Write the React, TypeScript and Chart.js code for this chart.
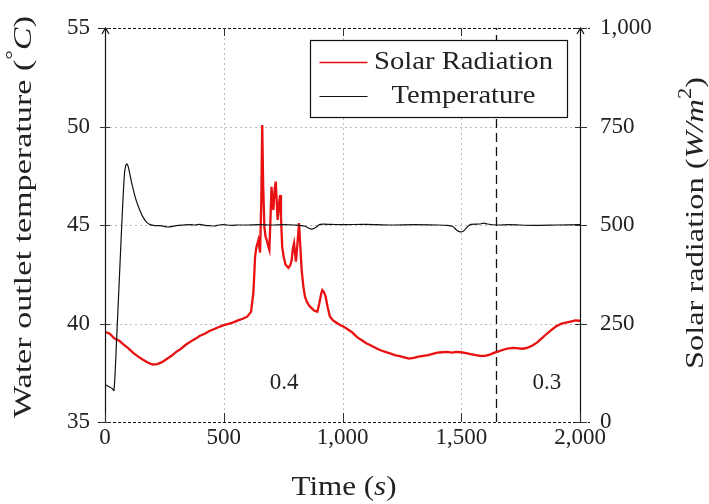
import React, { useEffect, useRef } from "react";
import { Chart, registerables } from "chart.js";

Chart.register(...registerables);

// ---------- data ----------
const tempTime = [0, 15, 30, 38, 50, 62, 74, 82, 87, 92, 98, 106, 115, 130, 145, 160, 175, 190, 210, 240, 260, 280, 300, 330, 360, 380, 400, 420, 440, 460, 480, 500, 530, 560, 600, 650, 700, 750, 800, 840, 860, 875, 890, 905, 950, 1000, 1100, 1200, 1300, 1400, 1440, 1465, 1480, 1495, 1510, 1525, 1540, 1580, 1595, 1610, 1650, 1700, 1800, 1900, 2000];
const tempValue = [36.9, 36.8, 36.7, 36.6, 39.5, 42.7, 45.9, 47.6, 48.0, 48.1, 47.95, 47.5, 47.0, 46.3, 45.8, 45.4, 45.15, 45.02, 44.97, 44.96, 44.9, 44.92, 44.97, 45.0, 45.02, 45.0, 45.03, 44.98, 44.97, 44.95, 45.0, 45.02, 44.98, 45.0, 45.0, 45.02, 45.0, 45.02, 45.0, 44.95, 44.82, 44.8, 44.9, 45.03, 45.03, 45.02, 45.03, 45.0, 45.02, 45.0, 44.98, 44.92, 44.75, 44.65, 44.7, 44.9, 45.03, 45.05, 45.1, 45.05, 45.0, 45.02, 44.98, 45.0, 45.02];

const radTime = [0, 20, 40, 60, 80, 100, 120, 140, 160, 180, 200, 220, 240, 260, 280, 300, 320, 340, 360, 380, 400, 420, 440, 460, 480, 500, 520, 540, 560, 580, 600, 615, 625, 632, 638, 646, 653, 658, 662, 666, 671, 676, 681, 688, 692, 697, 701, 705, 709, 714, 719, 723, 727, 732, 737, 741, 746, 752, 760, 772, 780, 786, 791, 796, 800, 804, 810, 817, 822, 828, 835, 842, 850, 860, 870, 880, 894, 902, 910, 915, 922, 929, 938, 947, 960, 975, 990, 1005, 1020, 1040, 1060, 1080, 1100, 1120, 1140, 1160, 1180, 1200, 1220, 1240, 1260, 1280, 1300, 1320, 1340, 1360, 1380, 1400, 1420, 1440, 1460, 1480, 1500, 1520, 1540, 1560, 1580, 1600, 1620, 1640, 1660, 1680, 1700, 1720, 1740, 1760, 1780, 1800, 1820, 1840, 1860, 1880, 1900, 1920, 1940, 1960, 1980, 2000];
const radValue = [229, 224, 212, 206, 196, 186, 175, 166, 158, 151, 146, 147, 152, 160, 168, 178, 186, 196, 204, 211, 219, 224, 231, 236, 241, 246, 249, 253, 258, 262, 268, 280, 330, 420, 445, 462, 430, 560, 754, 600, 495, 470, 462, 445, 437, 520, 597, 560, 538, 590, 610, 560, 513, 550, 576, 520, 445, 420, 400, 391, 398, 411, 440, 454, 430, 407, 450, 505, 450, 386, 345, 318, 305, 295, 289, 283, 280, 300, 325, 335, 330, 318, 290, 268, 258, 252, 246, 242, 236, 228, 216, 208, 200, 194, 188, 182, 178, 174, 170, 167, 164, 161, 163, 166, 168, 170, 173, 176, 177, 178, 176, 178, 177, 175, 172, 170, 168, 168, 171, 176, 180, 184, 187, 188, 187, 186, 189, 194, 202, 213, 224, 234, 243, 249, 252, 255, 258, 257];

const xTicks = [0, 500, 1000, 1500, 2000];
const tempTicks = [35, 40, 45, 50, 55];
const radTicks = [0, 250, 500, 750, 1000];
const splitTime = 1645;
const regionLabels = ["0.4", "0.3"];
const regionLabelTimes = [754, 1861];
const regionLabelTemp = 37;
const seriesNames = ["Solar Radiation", "Temperature"];

const FONT = "'Liberation Serif', 'Times New Roman', serif";
const TEXT = "#222";

type Part = { t: string; it?: boolean; sup?: boolean };

function richWidth(ctx: CanvasRenderingContext2D, parts: Part[], size: number) {
  let w = 0;
  for (const p of parts) {
    const s = p.sup ? size * 0.7 : size;
    ctx.font = `${p.it ? "italic " : ""}${s}px ${FONT}`;
    w += ctx.measureText(p.t).width;
  }
  return w;
}

// draws text centred at (cx, cy), stretched horizontally to the given width
function drawRich(ctx: CanvasRenderingContext2D, parts: Part[], size: number, cx: number, cy: number, rot: number, width: number) {
  ctx.save();
  ctx.translate(cx, cy);
  ctx.rotate(rot);
  const w = richWidth(ctx, parts, size);
  ctx.scale(width / w, 1);
  ctx.fillStyle = TEXT;
  ctx.textBaseline = "middle";
  ctx.textAlign = "left";
  let x = -w / 2;
  for (const p of parts) {
    const s = p.sup ? size * 0.7 : size;
    ctx.font = `${p.it ? "italic " : ""}${s}px ${FONT}`;
    ctx.fillText(p.t, x, p.sup ? -size * 0.38 : 0);
    x += ctx.measureText(p.t).width;
  }
  ctx.restore();
}

function fmt(v: number) {
  return v.toLocaleString("en-US");
}

const framePlugin = {
  id: "frame",
  beforeDatasetsDraw(chart: any) {
    const { ctx, chartArea: a, scales } = chart;
    const x = scales.x, y = scales.y;
    ctx.save();
    ctx.strokeStyle = "#bcbcbc";
    ctx.lineWidth = 1;
    ctx.setLineDash([2, 3]);
    for (const v of xTicks) {
      if (v <= xTicks[0] || v >= xTicks[xTicks.length - 1]) continue;
      const px = Math.round(x.getPixelForValue(v)) + 0.5;
      ctx.beginPath(); ctx.moveTo(px, a.top); ctx.lineTo(px, a.bottom); ctx.stroke();
    }
    for (const v of tempTicks) {
      if (v <= tempTicks[0] || v >= tempTicks[tempTicks.length - 1]) continue;
      const py = Math.round(y.getPixelForValue(v)) + 0.5;
      ctx.beginPath(); ctx.moveTo(a.left, py); ctx.lineTo(a.right, py); ctx.stroke();
    }
    ctx.strokeStyle = "#111";
    ctx.lineWidth = 1.3;
    ctx.setLineDash([9, 5]);
    const sx = Math.round(x.getPixelForValue(splitTime)) + 0.5;
    ctx.beginPath(); ctx.moveTo(sx, a.bottom); ctx.lineTo(sx, a.top); ctx.stroke();
    ctx.restore();
  },
  afterDatasetsDraw(chart: any) {
    const { ctx, chartArea: a, scales } = chart;
    const x = scales.x, y = scales.y, y1 = scales.y1;
    ctx.save();
    ctx.strokeStyle = "#111";
    ctx.lineWidth = 1.2;
    ctx.setLineDash([3, 2]);
    ctx.beginPath(); ctx.moveTo(a.left - 7, a.top + 0.5); ctx.lineTo(a.right + 10, a.top + 0.5); ctx.stroke();
    ctx.beginPath(); ctx.moveTo(a.left - 7, a.bottom + 0.5); ctx.lineTo(a.right + 10, a.bottom + 0.5); ctx.stroke();
    ctx.setLineDash([]);
    for (const ax of [a.left + 0.5, a.right + 0.5]) {
      ctx.beginPath(); ctx.moveTo(ax, a.bottom); ctx.lineTo(ax, a.top + 1); ctx.stroke();
      ctx.beginPath(); ctx.moveTo(ax - 3.5, a.top + 6); ctx.lineTo(ax, a.top); ctx.lineTo(ax + 3.5, a.top + 6); ctx.stroke();
    }
    ctx.lineWidth = 1;
    ctx.strokeStyle = "#333";
    for (const v of xTicks) {
      const px = Math.round(x.getPixelForValue(v)) + 0.5;
      if (v > xTicks[0] && v < xTicks[xTicks.length - 1]) {
        ctx.beginPath(); ctx.moveTo(px, a.top); ctx.lineTo(px, a.top + 8); ctx.stroke();
      }
      ctx.beginPath(); ctx.moveTo(px, a.bottom); ctx.lineTo(px, a.bottom - 9); ctx.stroke();
    }
    for (const v of tempTicks) {
      const py = Math.round(y.getPixelForValue(v)) + 0.5;
      ctx.beginPath(); ctx.moveTo(a.left - 5, py); ctx.lineTo(a.left + 5, py); ctx.stroke();
    }
    for (const v of radTicks) {
      const py = Math.round(y1.getPixelForValue(v)) + 0.5;
      ctx.beginPath(); ctx.moveTo(a.right - 5, py); ctx.lineTo(a.right + 7, py); ctx.stroke();
    }
    ctx.fillStyle = TEXT;
    ctx.font = `23px ${FONT}`;
    ctx.textAlign = "center";
    ctx.textBaseline = "middle";
    regionLabels.forEach((s, i) => {
      ctx.fillText(s, x.getPixelForValue(regionLabelTimes[i]), y.getPixelForValue(regionLabelTemp));
    });
    // legend
    const lw = 257, lh = 77;
    const lx = a.right - 13 - lw + 0.5, ly = a.top + 12 + 0.5;
    ctx.fillStyle = "#fff";
    ctx.fillRect(lx, ly, lw, lh);
    ctx.strokeStyle = "#111";
    ctx.lineWidth = 1.2;
    ctx.strokeRect(lx, ly, lw, lh);
    const colors = ["#e81010", "#111"];
    const widths = [1.5, 1.2];
    const legendWidths = [179, 144];
    seriesNames.forEach((s, i) => {
      const cy = ly + 22 + i * 34;
      ctx.strokeStyle = colors[i];
      ctx.lineWidth = widths[i];
      ctx.beginPath(); ctx.moveTo(lx + 9, cy); ctx.lineTo(lx + 57, cy); ctx.stroke();
      drawRich(ctx, [{ t: s }], 25, lx + 153, cy, 0, legendWidths[i]);
    });
    ctx.restore();
  },
  afterDraw(chart: any) {
    const { ctx } = chart;
    drawRich(ctx, [{ t: "Water outlet temperature (" }, { t: "°", sup: true }, { t: "C", it: true }, { t: ")" }], 26, 24, 217, -Math.PI / 2, 402);
    drawRich(ctx, [{ t: "Solar radiation (" }, { t: "W/m", it: true }, { t: "2", sup: true }, { t: ")" }], 26, 696, 223, -Math.PI / 2, 292);
    drawRich(ctx, [{ t: "Time (" }, { t: "s", it: true }, { t: ")" }], 27, 344, 488, 0, 105);
  },
};

export default function App() {
  const ref = useRef<HTMLCanvasElement | null>(null);
  useEffect(() => {
    if (!ref.current) return;
    const tickFont = { family: FONT, size: 23 };
    const chart = new Chart(ref.current, {
      type: "line",
      data: {
        datasets: [
          {
            label: seriesNames[1],
            data: tempTime.map((t, i) => ({ x: t, y: tempValue[i] })),
            borderColor: "#111",
            borderWidth: 1.2,
            pointRadius: 0,
            tension: 0.25,
            yAxisID: "y",
            order: 0,
          },
          {
            label: seriesNames[0],
            data: radTime.map((t, i) => ({ x: t, y: radValue[i] })),
            borderColor: "#e81010",
            borderWidth: 2.3,
            pointRadius: 0,
            tension: 0,
            yAxisID: "y1",
            order: 1,
          },
        ],
      },
      options: {
        responsive: false,
        animation: false,
        devicePixelRatio: 1,
        layout: { padding: { top: 28, left: 0, right: 0, bottom: 0 } },
        plugins: { legend: { display: false }, tooltip: { enabled: false } },
        scales: {
          x: {
            type: "linear",
            min: 0,
            max: 2000,
            afterBuildTicks: (s: any) => { s.ticks = xTicks.map((v) => ({ value: v })); },
            afterFit: (s: any) => { s.height = 82; s.paddingLeft = 0; s.paddingRight = 0; },
            ticks: { font: tickFont, color: TEXT, padding: 2, maxRotation: 0, autoSkip: false, callback: (v: any) => fmt(Number(v)) },
            grid: { display: false, drawTicks: false },
            border: { display: false },
          },
          y: {
            position: "left",
            min: 35,
            max: 55,
            afterBuildTicks: (s: any) => { s.ticks = tempTicks.map((v) => ({ value: v })); },
            afterFit: (s: any) => { s.width = 105; s.paddingTop = 0; s.paddingBottom = 0; },
            ticks: { font: tickFont, color: TEXT, padding: 15, callback: (v: any) => fmt(Number(v)) },
            grid: { display: false, drawTicks: false },
            border: { display: false },
          },
          y1: {
            position: "right",
            min: 0,
            max: 1000,
            afterBuildTicks: (s: any) => { s.ticks = radTicks.map((v) => ({ value: v })); },
            afterFit: (s: any) => { s.width = 129; s.paddingTop = 0; s.paddingBottom = 0; },
            ticks: { font: tickFont, color: TEXT, padding: 20, callback: (v: any) => fmt(Number(v)) },
            grid: { display: false, drawTicks: false },
            border: { display: false },
          },
        },
      } as any,
      plugins: [framePlugin],
    });
    return () => chart.destroy();
  }, []);
  return (
    <div style={{ position: "absolute", left: 0, top: 0, width: 709, height: 504, background: "#fff" }}>
      <canvas ref={ref} width={709} height={504} style={{ display: "block" }} />
    </div>
  );
}
